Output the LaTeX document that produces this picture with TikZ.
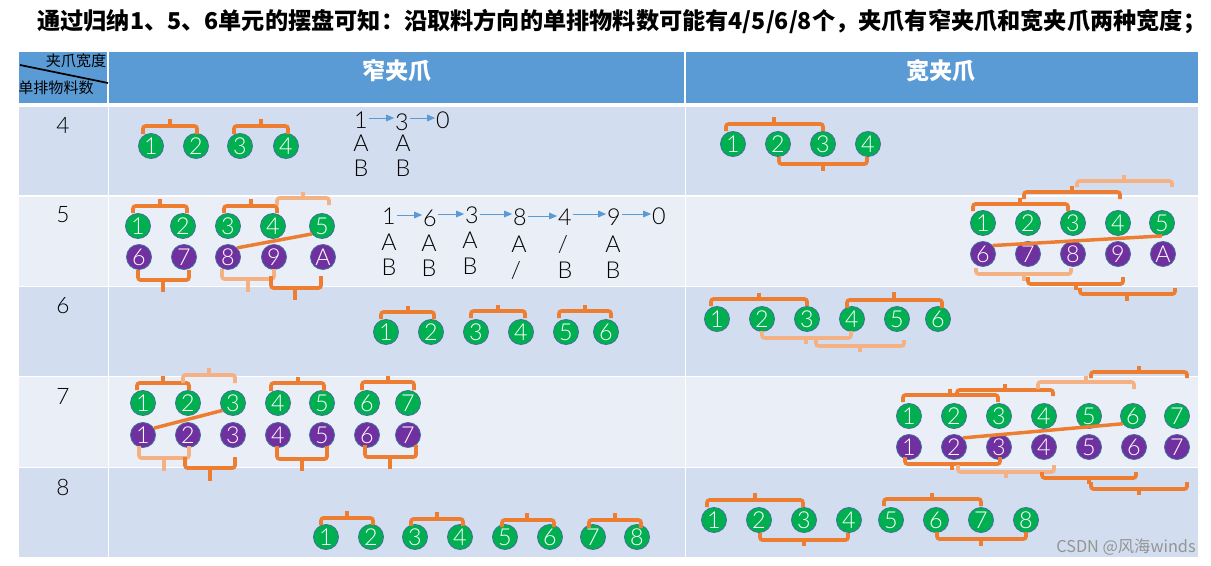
\documentclass[tikz,border=0pt]{standalone}
\usepackage{fontspec}
\setmainfont{Noto Sans CJK SC}
\newfontfamily\digitfont{Lato Light}
\usetikzlibrary{arrows.meta,calc}
\definecolor{hdr}{HTML}{5B9BD5}
\definecolor{rowa}{HTML}{D2DEEF}
\definecolor{rowb}{HTML}{EAEFF7}
\definecolor{ballg}{HTML}{00B050}
\definecolor{ballp}{HTML}{7030A0}
\definecolor{clawo}{HTML}{ED7D31}
\definecolor{clawl}{HTML}{F4B183}
\definecolor{ringc}{HTML}{41719C}
\tikzset{
  ball/.style={circle,draw=ringc,line width=0.6pt,minimum size=18.8pt,inner sep=0pt,text=white,font=\digitfont\fontsize{17.5}{18}\selectfont},
  gball/.style={ball,fill=ballg},
  pball/.style={ball,fill=ballp},
  seqtext/.style={inner sep=0.6pt,text=black,font=\digitfont\fontsize{17.5}{18}\selectfont},
  rowlab/.style={inner sep=0pt,text=black,font=\digitfont\fontsize{17}{18}\selectfont},
  seqarrow/.style={draw=hdr,line width=0.75pt,-{Triangle[length=6pt,width=5pt]}},
  clawline/.style={line width=2.8pt,rounded corners=2pt,line cap=butt},
  tieline/.style={draw=clawo,line width=2.6pt},
  cella/.style={fill=rowa,draw=none},
  cellb/.style={fill=rowb,draw=none},
}
% top claw: x1,x2,ytop,ybottom,tickx,ticktop,colour
\newcommand{\clawup}[7]{\draw[clawline,draw=#7] (#1,#4) -- (#1,#3) -- (#2,#3) -- (#2,#4);
  \draw[draw=#7,line width=3pt] (#5,#3) -- (#5,#6);}
\newcommand{\ballrow}[3]{\foreach \nm/\xx/\lab in {#3} {\node[#1] (\nm) at (\xx,#2) {\lab};}}
\newcommand{\seqnode}[4]{\node[seqtext] (#1) at (#2,#3) {#4};}
\newcommand{\hop}[3]{\draw[seqarrow] (#1.east |- 0,#3) -- (#2.west |- 0,#3);}
\begin{document}
\begin{tikzpicture}[x=0.75pt,y=-0.75pt]
\useasboundingbox (0,0) rectangle (1211,565);
\fill[white] (0,0) rectangle (1211,565);
% title
\node[inner sep=0pt,anchor=west,font=\fontsize{17.39}{18}\bfseries\selectfont,text=black] (title) at (37,22) {通过归纳1、5、6单元的摆盘可知：沿取料方向的单排物料数可能有4/5/6/8个，夹爪有窄夹爪和宽夹爪两种宽度；};
% header
\fill[hdr] (19,52) rectangle (107,103);
\fill[hdr] (109,52) rectangle (684,103);
\fill[hdr] (686,52) rectangle (1198,103);
% rows
\foreach \ya/\yb/\st in {107/195/cella,197/286/cellb,287/376/cella,377/467/cellb,468/557/cella}{
  \fill[\st] (19,\ya) rectangle (107.5,\yb);
  \fill[\st] (108.5,\ya) rectangle (684.5,\yb);
  \fill[\st] (685.5,\ya) rectangle (1198,\yb);
}
\node[inner sep=0pt,font=\fontsize{11.3}{12}\selectfont] (hw) at (76,61) {夹爪宽度};
\node[inner sep=0pt,font=\fontsize{11.3}{12}\selectfont] (hc) at (56,88) {单排物料数};
\coordinate (dl) at (20,65); \coordinate (dr) at (108,83);
\draw[black,line width=1.3pt] (dl) -- (dr);
\node[inner sep=0pt,text=white,font=\fontsize{17.3}{18}\bfseries\selectfont] (hn) at (397,71) {窄夹爪};
\node[inner sep=0pt,text=white,font=\fontsize{17.3}{18}\bfseries\selectfont] (hk) at (941,71) {宽夹爪};
\node[rowlab] (r4) at (63,125) {4};
\node[rowlab] (r5) at (63,215) {5};
\node[rowlab] (r6) at (63,306) {6};
\node[rowlab] (r7) at (63,396) {7};
\node[rowlab] (r8) at (63,487) {8};
% ---- row 4
\ballrow{gball}{146}{a1/151/1,a2/196/2,a3/240/3,a4/286/4}
\clawup{143}{197}{126}{134}{170}{119}{clawo}
\clawup{234}{288}{126}{134}{261}{119}{clawo}
\seqnode{s1}{361}{120}{1}\seqnode{s3}{402}{122}{3}\seqnode{s0}{443}{120}{0}
\seqnode{sa1}{361}{143}{A}\seqnode{sa2}{403}{143}{A}
\seqnode{sb1}{361}{168}{B}\seqnode{sb2}{403}{168}{B}
\hop{s1}{s3}{118}\hop{s3}{s0}{118}
\ballrow{gball}{144}{c1/733/1,c2/778/2,c3/823/3,c4/868/4}
\clawup{726}{823}{124}{131}{774}{117}{clawo}
\clawup{779}{867}{164}{157}{823}{171}{clawo}
% ---- row 5
\ballrow{gball}{226}{d1/138/1,d2/183/2,d3/228/3,d4/273/4,d5/322/5}
\ballrow{pball}{257}{e6/139/6,e7/184/7,e8/228/8,e9/274/9,eA/323/A}
\clawup{133}{187}{206}{213}{160}{199}{clawo}
\clawup{224}{277}{206}{213}{251}{199}{clawo}
\clawup{277}{329}{198}{205}{303}{192}{clawl}
\clawup{138}{189}{280}{270}{163}{292}{clawo}
\clawup{222}{274}{279}{269}{248}{292}{clawl}
\clawup{271}{321}{288}{276}{295}{300}{clawo}
\draw[tieline] (e8.45) -- (d5.218);
\seqnode{t1}{389}{216}{1}\seqnode{t6}{430}{218}{6}\seqnode{t3}{472}{215}{3}\seqnode{t8}{520}{217}{8}\seqnode{t4}{565}{217}{4}\seqnode{t9}{614}{217}{9}\seqnode{t0}{659}{216}{0}
\seqnode{ta1}{389}{242}{A}\seqnode{ta2}{429}{243}{A}\seqnode{ta3}{470}{240}{A}\seqnode{ta4}{519}{244}{A}\seqnode{ta5}{563}{244}{/}\seqnode{ta6}{613}{244}{A}
\seqnode{tb1}{389}{267}{B}\seqnode{tb2}{429}{268}{B}\seqnode{tb3}{470}{266}{B}\seqnode{tb4}{516}{270}{/}\seqnode{tb5}{565}{270}{B}\seqnode{tb6}{613}{270}{B}
\hop{t1}{t6}{215}\hop{t6}{t3}{214}\hop{t3}{t8}{214}\hop{t8}{t4}{216}\hop{t4}{t9}{214}\hop{t9}{t0}{214}
\ballrow{gball}{223}{f1/983/1,f2/1028/2,f3/1073/3,f4/1118/4,f5/1162/5}
\ballrow{pball}{254}{g6/983/6,g7/1028/7,g8/1073/8,g9/1118/9,gA/1163/A}
\clawup{973}{1068}{204}{211}{1020}{198}{clawo}
\clawup{1024}{1120}{192}{199}{1072}{186}{clawo}
\clawup{1077}{1172}{181}{187}{1124}{175}{clawl}
\clawup{976}{1071}{274}{268}{1024}{281}{clawl}
\clawup{1028}{1123}{284}{277}{1076}{290}{clawo}
\clawup{1080}{1175}{294}{288}{1127}{301}{clawo}
\draw[tieline] (g6.41) -- (f5.south);
% ---- row 6
\ballrow{gball}{332}{h1/386/1,h2/431/2,h3/476/3,h4/521/4,h5/566/5,h6/606/6}
\clawup{381}{434}{312}{319}{408}{306}{clawo}
\clawup{471}{525}{311}{318}{498}{305}{clawo}
\clawup{559}{611}{311}{318}{585}{305}{clawo}
\ballrow{gball}{319}{i1/717/1,i2/762/2,i3/807/3,i4/852/4,i5/897/5,i6/938/6}
\clawup{711}{807}{299}{306}{759}{293}{clawo}
\clawup{847}{942}{300}{308}{894}{292}{clawo}
\clawup{762}{851}{338}{331}{806}{344}{clawl}
\clawup{816}{904}{346}{340}{860}{352}{clawl}
% ---- row 7
\ballrow{gball}{403}{j1/143/1,j2/188/2,j3/233/3,j4/278/4,j5/322/5,j6/367/6,j7/408/7}
\ballrow{pball}{435}{k1/143/1,k2/188/2,k3/233/3,k4/278/4,k5/322/5,k6/367/6,k7/408/7}
\clawup{137}{189}{383}{390}{163}{376}{clawo}
\clawup{183}{235}{375}{383}{209}{368}{clawl}
\clawup{271}{324}{383}{391}{298}{377}{clawo}
\clawup{362}{414}{382}{390}{388}{376}{clawo}
\clawup{139}{189}{458}{446}{164}{471}{clawl}
\clawup{185}{235}{468}{457}{210}{481}{clawo}
\clawup{277}{327}{459}{446}{302}{471}{clawo}
\clawup{365}{416}{457}{445}{390}{469}{clawo}
\draw[tieline] (k1.32) -- (j3.215);
\ballrow{gball}{416}{l1/909/1,l2/954/2,l3/999/3,l4/1044/4,l5/1089/5,l6/1133/6,l7/1177/7}
\ballrow{pball}{447}{m1/909/1,m2/954/2,m3/999/3,m4/1044/4,m5/1089/5,m6/1134/6,m7/1177/7}
\clawup{903}{998}{395}{402}{950}{389}{clawo}
\clawup{957}{1053}{390}{396}{1005}{384}{clawo}
\clawup{1038}{1134}{382}{389}{1086}{376}{clawl}
\clawup{1091}{1187}{372}{378}{1139}{366}{clawo}
\clawup{905}{1000}{464}{457}{952}{470}{clawo}
\clawup{958}{1054}{472}{465}{1006}{478}{clawl}
\clawup{1042}{1136}{478}{472}{1089}{484}{clawo}
\clawup{1091}{1187}{489}{482}{1139}{495}{clawo}
\draw[tieline] (m2.45) -- (l6.217);
% ---- row 8
\ballrow{gball}{537}{n1/326/1,n2/371/2,n3/415/3,n4/460/4,n5/505/5,n6/550/6,n7/593/7,n8/637/8}
\clawup{321}{373}{518}{525}{347}{511}{clawo}
\clawup{411}{463}{519}{526}{437}{512}{clawo}
\clawup{502}{554}{520}{527}{527}{513}{clawo}
\clawup{589}{641}{520}{528}{615}{513}{clawo}
\ballrow{gball}{520}{o1/714/1,o2/759/2,o3/804/3,o4/849/4,o5/891/5,o6/936/6,o7/981/7,o8/1026/8}
\clawup{707}{803}{500}{507}{755}{493}{clawo}
\clawup{884}{981}{499}{506}{932}{493}{clawo}
\clawup{760}{848}{540}{533}{804}{546}{clawo}
\clawup{937}{1026}{539}{532}{981}{546}{clawo}
% watermark
\node[inner sep=0pt,text=black!42,font=\fontsize{12.2}{12}\selectfont] (wm) at (1126,547) {CSDN @风海winds};
\end{tikzpicture}
\end{document}
